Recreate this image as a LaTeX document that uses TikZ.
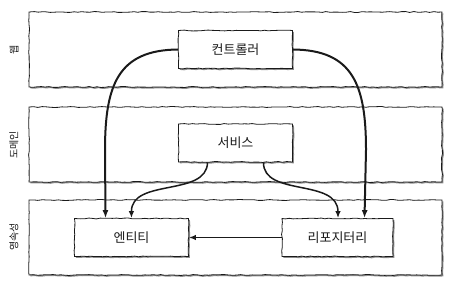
\documentclass[tikz,border=0pt]{standalone}
\usepackage{fontspec}
\setmainfont{Noto Sans CJK KR}
\usetikzlibrary{arrows.meta}
\usetikzlibrary{positioning}
\usetikzlibrary{shadows}
\usetikzlibrary{decorations.pathmorphing}
\definecolor{hexFg}{HTML}{1a1a1a}
\definecolor{hexShadow}{HTML}{7a7a7a}
\tikzset{
  hex sketch/.style={
    decorate,
    decoration={random steps, segment length=4pt, amplitude=0.45pt},
  },
}
\tikzset{
  hex layer/.style={
    hex sketch,
    draw=hexFg,
    line width=0.8pt,
    fill=white,
    drop shadow={shadow xshift=1.4pt, shadow yshift=-1.4pt, fill=hexShadow, opacity=0.85},
  },
}
\tikzset{
  hex comp/.style={
    rectangle,
    hex sketch,
    draw=hexFg,
    line width=0.8pt,
    fill=white,
    drop shadow={shadow xshift=1.4pt, shadow yshift=-1.4pt, fill=hexShadow, opacity=0.85},
    text=hexFg,
    minimum width=114pt,
    minimum height=38pt,
    align=center,
    font=\fontsize{13}{15}\selectfont,
    inner sep=2pt,
  },
}
\tikzset{
  hex layer label/.style={
    rotate=90,
    text=hexFg,
    font=\fontsize{10}{12}\selectfont,
  },
}
\tikzset{
  hex dep/.style={
    -{Latex[length=8pt, width=6pt]},
    draw=hexFg,
    line width=2pt,
  },
}
\tikzset{
  hex dep thin/.style={
    -{Latex[length=7pt, width=5.5pt]},
    draw=hexFg,
    line width=1.5pt,
  },
}
\tikzset{
  hex figure/.style={
    x=1pt,
    y=-1pt,
  },
}
\pgfmathsetseed{7}
\begin{document}
\begin{tikzpicture}[hex figure]
  \useasboundingbox (0,0) rectangle (454,288);

  % =========================================================================
  % Layers (web, domain, persistence)
  % =========================================================================
  \path[hex layer] (29,12)  rectangle (442,87);
  \path[hex layer] (29,107) rectangle (442,182);
  \path[hex layer] (29,200) rectangle (442,275);

  \node[hex layer label] (lweb) at (14,50)  {웹};
  \node[hex layer label] (ldom) at (14,145) {도메인};
  \node[hex layer label] (lper) at (14,237) {영속성};

  % =========================================================================
  % Components
  % =========================================================================
  \node[hex comp] (ctrl) at (235.5,49.5)  {컨트롤러};
  \node[hex comp] (serv) at (235.5,143)   {서비스};
  \node[hex comp] (ent)  at (131.5,237.5) {엔티티};
  \node[hex comp, minimum width=111pt] (repo) at (337.5,237.5) {리포지터리};

  \coordinate (ent_in_ctrl)  at ([xshift=-26pt]ent.north);
  \coordinate (repo_in_ctrl) at ([xshift=27pt]repo.north);
  \coordinate (serv_out_l)   at ([xshift=-28pt]serv.south);
  \coordinate (serv_out_r)   at ([xshift=28pt]serv.south);

  % =========================================================================
  % Controller -> entity / repository
  % =========================================================================
  \draw[hex dep]
    (ctrl.west) .. controls (118,50) and (105,85) .. (105,150)
    -- (ent_in_ctrl);
  \draw[hex dep]
    (ctrl.east) .. controls (353,50) and (366,85) .. (366,150)
    -- (repo_in_ctrl);

  % =========================================================================
  % Service -> entity / repository
  % =========================================================================
  \draw[hex dep thin]
    (serv_out_l) .. controls (207,197) and (131,178) .. (ent.north);
  \draw[hex dep thin]
    (serv_out_r) .. controls (263,197) and (338,178) .. ([xshift=0.5pt]repo.north);

  % =========================================================================
  % Repository -> entity
  % =========================================================================
  \draw[hex dep thin] (repo.west) -- (ent.east);

\end{tikzpicture}
\end{document}
